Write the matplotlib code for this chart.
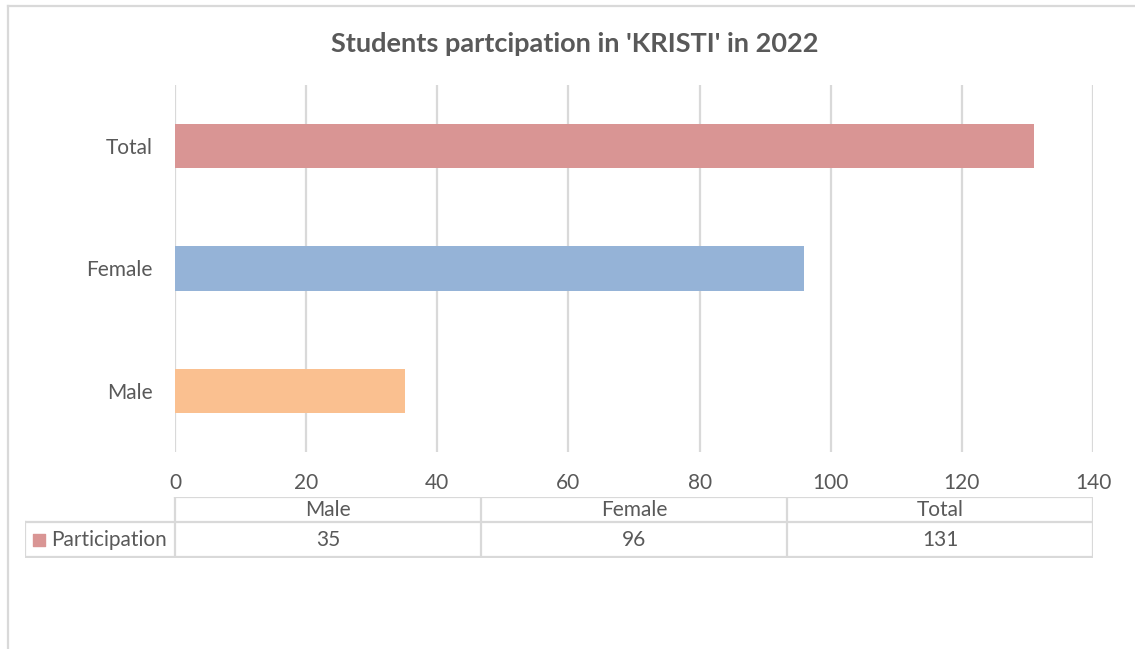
import matplotlib.pyplot as plt
from matplotlib.lines import Line2D

categories = ["Male", "Female", "Total"]
participation = [35, 96, 131]
bar_colors = ["#FAC090", "#95B3D7", "#D99594"]
series_name = "Participation"
x_ticks = [0, 20, 40, 60, 80, 100, 120, 140]

GRID = "#D9D9D9"
TXT = "#595959"
W, H = 1135, 649
FS = 15

plt.rcParams["font.family"] = ["Lato", "DejaVu Sans"]

fig = plt.figure(figsize=(W / 100, H / 100), dpi=100)


def fx(px):
    return px / W


def fy(py):
    return 1 - py / H


# chart frame (top and left edges)
fig.add_artist(Line2D([fx(8), 1], [fy(6), fy(6)], color=GRID, lw=1.6, transform=fig.transFigure))
fig.add_artist(Line2D([fx(8), fx(8)], [fy(6), 0], color=GRID, lw=1.6, transform=fig.transFigure))

fig.text(fx(575), fy(44), "Students partcipation in 'KRISTI' in 2022", ha="center", va="center",
         fontsize=19.5, fontweight="bold", color=TXT)

# main bar chart
ax = fig.add_axes([fx(175), fy(452), fx(1093 - 175), (452 - 85) / H])
ypos = range(len(categories))
ax.barh(ypos, participation, height=0.36, color=bar_colors, zorder=3)
ax.set_xlim(0, 140)
ax.set_ylim(-0.5, len(categories) - 0.5)
ax.set_xticks(x_ticks)
ax.set_yticks(list(ypos))
ax.set_yticklabels(categories)
ax.grid(axis="x", color=GRID, lw=1.6, zorder=0)
for s in ax.spines.values():
    s.set_visible(False)
ax.tick_params(axis="both", length=0, labelsize=FS, labelcolor=TXT)
ax.tick_params(axis="x", pad=15)
ax.tick_params(axis="y", pad=16)

# data table under the axis
tab = fig.add_axes([fx(25), fy(558), fx(1093 - 25), (558 - 497) / H])
tab.set_xlim(25, 1093)
tab.set_ylim(558, 497)
tab.axis("off")
col_edges = [175 + i * (1093 - 175) / len(categories) for i in range(len(categories) + 1)]
lk = dict(color=GRID, lw=1.6, solid_capstyle="projecting")
tab.plot([175, 1093], [497, 497], **lk)
tab.plot([25, 1093], [522, 522], **lk)
tab.plot([25, 1093], [557, 557], **lk)
tab.plot([25, 25], [522, 557], **lk)
for e in col_edges:
    tab.plot([e, e], [497, 557], **lk)
for i, (c, v) in enumerate(zip(categories, participation)):
    mid = (col_edges[i] + col_edges[i + 1]) / 2
    tab.text(mid, 510, c, ha="center", va="center", fontsize=FS, color=TXT)
    tab.text(mid, 540, str(v), ha="center", va="center", fontsize=FS, color=TXT)
tab.scatter([39], [540], marker="s", s=70, color=bar_colors[2])
tab.text(51, 540, series_name, ha="left", va="center", fontsize=FS, color=TXT)

fig.savefig("out.png", dpi=100)
